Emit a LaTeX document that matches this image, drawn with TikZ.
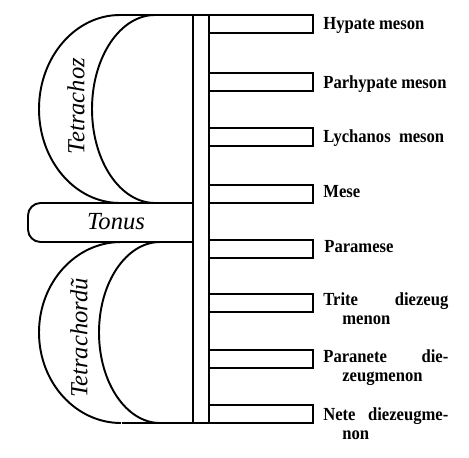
\documentclass[tikz,border=0pt]{standalone}
\usepackage{fontspec}
\setmainfont{Liberation Serif}
\newfontfamily\labelfont{Liberation Serif}[FakeStretch=0.9]
\usetikzlibrary{positioning}

\begin{document}
\begin{tikzpicture}[x=0.02cm, y=-0.02cm,
    outline/.style={draw=black, line width=1.1pt},
    slat/.style={rectangle, draw=black, line width=1.1pt, inner sep=0pt, outer sep=0pt,
        minimum width=2.08cm, minimum height=0.36cm, anchor=north west},
    tone/.style={font=\labelfont\fontsize{10.5}{11}\selectfont\bfseries, anchor=base west, inner sep=0pt},
    twoline/.style={tone, text width=2.5cm, align=left},
    goth/.style={font=\fontsize{14}{16}\selectfont\itshape, inner sep=0pt}
]
    \useasboundingbox (0,0) rectangle (469,457);

    % central bar with top and bottom lines
    \draw[outline] (193,15) -- (193,423);
    \draw[outline] (209,15) -- (209,423);
    \draw[outline] (120,15) -- (209,15);
    \draw[outline] (122,423) -- (209,423);

    % upper tetrachord
    \draw[outline] (120,15) arc[start angle=270, end angle=90, x radius=81, y radius=94];
    \draw[outline] (155,15) arc[start angle=270, end angle=90, x radius=63, y radius=94];

    % tonus
    \draw[outline, rounded corners=0.25cm] (193,203) -- (28,203) -- (28,242) -- (193,242);

    % lower tetrachord
    \draw[outline] (121,242) arc[start angle=270, end angle=90, x radius=82, y radius=90.5];
    \draw[outline] (160,242) arc[start angle=270, end angle=90, x radius=61, y radius=90.5];

    \node[goth, rotate=90] (tetraup) at (76,106) {Tetrachoz};
    \node[goth] (tonus) at (116,222) {Tonus};
    \node[goth, rotate=90] (tetralow) at (79,338) {Tetrachordũ};

    % strings
    \node[slat] (hypate) at (209,15) {};
    \node[slat] (parhypate) at (209,73) {};
    \node[slat] (lychanos) at (209,128) {};
    \node[slat] (mese) at (209,185) {};
    \node[slat] (paramese) at (209,240) {};
    \node[slat] (trite) at (209,294) {};
    \node[slat] (paranete) at (209,350) {};
    \node[slat] (nete) at (209,405) {};

    \node[tone] (hypatelbl) at (323,29) {Hypate meson};
    \node[tone] (parhypatelbl) at (323,88) {Parhypate meson};
    \node[tone] (lychanoslbl) at (323,142) {Lychanos\ \ meson};
    \node[tone] (meselbl) at (323,197) {Mese};
    \node[tone] (paramesebl) at (324,252) {Paramese};
    \node[twoline] (tritelbl) at (323,305) {Trite\hfill diezeug\\\hspace*{0.38cm}menon};
    \node[twoline] (paranetelbl) at (323,362) {Paranete\hfill die-\\\hspace*{0.38cm}zeugmenon};
    \node[twoline] (netelbl) at (323,420) {Nete\hfill diezeugme-\\\hspace*{0.38cm}non};
\end{tikzpicture}
\end{document}
